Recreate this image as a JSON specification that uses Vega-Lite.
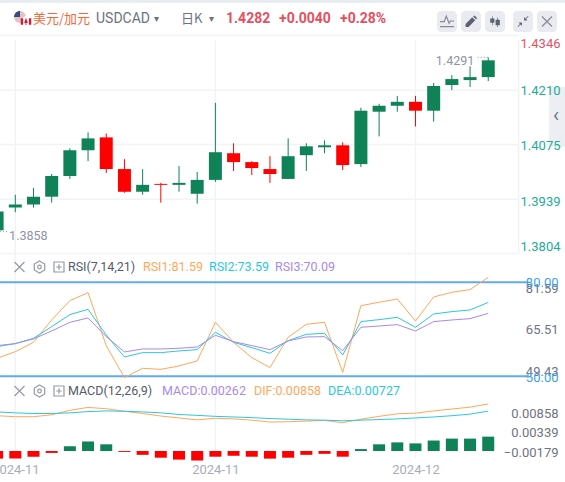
{
"$schema":"https://vega.github.io/schema/vega-lite/v6.json",
"width":565,"height":482,"padding":0,"autosize":{"type":"none"},"background":"#ffffff",
"config":{"view":{"stroke":null},"font":"Roboto","scale":{"continuousPadding":0},"text":{"baseline":"middle","align":"left","font":"Roboto"}},
"datasets":{"bars":[
{"i":0,"open":1.38614,"high":1.39082,"low":1.38614,"close":1.39082,"rsi1":55.74,"rsi2":59.47,"rsi3":59.79,"dif":0.00644,"dea":0.00713,"macd":-0.00139},
{"i":1,"open":1.39180,"high":1.39500,"low":1.39064,"close":1.39254,"rsi1":57.87,"rsi2":60.43,"rsi3":60.43,"dif":0.00626,"dea":0.00696,"macd":-0.00139},
{"i":2,"open":1.39254,"high":1.39672,"low":1.39180,"close":1.39451,"rsi1":60.85,"rsi2":62.13,"rsi3":61.92,"dif":0.00626,"dea":0.00684,"macd":-0.00104},
{"i":3,"open":1.39451,"high":1.40016,"low":1.39303,"close":1.39967,"rsi1":67.98,"rsi2":65.85,"rsi3":64.47,"dif":0.00661,"dea":0.00684,"macd":-0.00035},
{"i":4,"open":1.39967,"high":1.40656,"low":1.39893,"close":1.40607,"rsi1":74.15,"rsi2":69.68,"rsi3":67.23,"dif":0.00742,"dea":0.00696,"macd":0.00087},
{"i":5,"open":1.40607,"high":1.41050,"low":1.40336,"close":1.40902,"rsi1":76.70,"rsi2":71.38,"rsi3":68.62,"dif":0.00795,"dea":0.00719,"macd":0.00174},
{"i":6,"open":1.40927,"high":1.41025,"low":1.40041,"close":1.40139,"rsi1":59.79,"rsi2":63.19,"rsi3":62.66,"dif":0.00771,"dea":0.00731,"macd":0.00122},
{"i":7,"open":1.40139,"high":1.40385,"low":1.39549,"close":1.39574,"rsi1":49.57,"rsi2":56.17,"rsi3":57.77,"dif":0.00725,"dea":0.00725,"macd":-0.00017},
{"i":8,"open":1.39574,"high":1.40139,"low":1.39500,"close":1.39746,"rsi1":52.55,"rsi2":57.55,"rsi3":58.72,"dif":0.00684,"dea":0.00713,"macd":-0.0007},
{"i":9,"open":1.39770,"high":1.39795,"low":1.39303,"close":1.39746,"rsi1":52.23,"rsi2":57.55,"rsi3":58.72,"dif":0.00638,"dea":0.00696,"macd":-0.00122},
{"i":10,"open":1.39746,"high":1.40213,"low":1.39574,"close":1.39795,"rsi1":53.30,"rsi2":58.09,"rsi3":58.94,"dif":0.00603,"dea":0.00667,"macd":-0.00157},
{"i":11,"open":1.39524,"high":1.40066,"low":1.39278,"close":1.39869,"rsi1":54.89,"rsi2":58.51,"rsi3":59.36,"dif":0.00568,"dea":0.0065,"macd":-0.00174},
{"i":12,"open":1.39869,"high":1.41788,"low":1.39820,"close":1.40558,"rsi1":67.23,"rsi2":64.04,"rsi3":63.09,"dif":0.00597,"dea":0.00632,"macd":-0.00104},
{"i":13,"open":1.40533,"high":1.40779,"low":1.40090,"close":1.40312,"rsi1":60.85,"rsi2":60.85,"rsi3":61.06,"dif":0.00586,"dea":0.00621,"macd":-0.00087},
{"i":14,"open":1.40312,"high":1.40336,"low":1.39992,"close":1.40164,"rsi1":55.96,"rsi2":59.15,"rsi3":59.79,"dif":0.00563,"dea":0.00609,"macd":-0.00104},
{"i":15,"open":1.40139,"high":1.40459,"low":1.39795,"close":1.40016,"rsi1":52.77,"rsi2":57.34,"rsi3":58.51,"dif":0.00528,"dea":0.00592,"macd":-0.00139},
{"i":16,"open":1.39893,"high":1.40902,"low":1.39893,"close":1.40459,"rsi1":62.45,"rsi2":61.38,"rsi3":61.28,"dif":0.00534,"dea":0.0058,"macd":-0.00122},
{"i":17,"open":1.40484,"high":1.40779,"low":1.40090,"close":1.40705,"rsi1":66.6,"rsi2":63.4,"rsi3":62.55,"dif":0.00545,"dea":0.00568,"macd":-0.0007},
{"i":18,"open":1.40681,"high":1.40853,"low":1.40533,"close":1.40730,"rsi1":67.23,"rsi2":63.72,"rsi3":62.66,"dif":0.00557,"dea":0.00563,"macd":-0.00052},
{"i":19,"open":1.40730,"high":1.40804,"low":1.40115,"close":1.40238,"rsi1":51.28,"rsi2":56.81,"rsi3":58.19,"dif":0.00516,"dea":0.00551,"macd":-0.00104},
{"i":20,"open":1.40262,"high":1.41665,"low":1.40189,"close":1.41591,"rsi1":72.55,"rsi2":67.45,"rsi3":65.64,"dif":0.0058,"dea":0.00563,"macd":0.00035},
{"i":21,"open":1.41566,"high":1.41763,"low":1.40951,"close":1.41714,"rsi1":73.62,"rsi2":68.09,"rsi3":66.06,"dif":0.00632,"dea":0.00574,"macd":0.00122},
{"i":22,"open":1.41714,"high":1.41960,"low":1.41566,"close":1.41812,"rsi1":74.68,"rsi2":68.83,"rsi3":66.49,"dif":0.00679,"dea":0.00586,"macd":0.00157},
{"i":23,"open":1.41812,"high":1.41960,"low":1.41197,"close":1.41591,"rsi1":67.66,"rsi2":65.64,"rsi3":64.47,"dif":0.0069,"dea":0.00603,"macd":0.00139},
{"i":24,"open":1.41591,"high":1.42280,"low":1.41320,"close":1.42206,"rsi1":75.32,"rsi2":69.89,"rsi3":67.45,"dif":0.00731,"dea":0.00621,"macd":0.00191},
{"i":25,"open":1.42230,"high":1.42476,"low":1.42107,"close":1.42378,"rsi1":76.81,"rsi2":70.64,"rsi3":67.98,"dif":0.00766,"dea":0.00644,"macd":0.00226},
{"i":26,"open":1.42353,"high":1.42698,"low":1.42181,"close":1.42427,"rsi1":77.66,"rsi2":71.17,"rsi3":68.4,"dif":0.008,"dea":0.00673,"macd":0.00226},
{"i":27,"open":1.42427,"high":1.42919,"low":1.42329,"close":1.42845,"rsi1":81.59,"rsi2":73.59,"rsi3":70.09,"dif":0.00858,"dea":0.00727,"macd":0.00262}
]},
"resolve":{"scale":{"y":"independent"},"axis":{"y":"independent"}},
"layer":[
{"layer":[
 {"data":{"values":[{"level":1.4346},{"level":1.4210},{"level":1.4075},{"level":1.3939},{"level":1.3804}]},
  "mark":{"type":"rule","color":"#f1f3f7","strokeWidth":1.5},
  "encoding":{
   "x":{"datum":0.159,"type":"quantitative","scale":{"domain":[0.159,31.22],"range":[0,565]},"axis":{"orient":"bottom","offset":-21,"values":[1,12,23],"labelExpr":"datum.value==23?'2024-12':'2024-11'","title":null,"grid":false,"domain":false,"ticks":false,"tickSize":0,"labelPadding":2,"labelFont":"Roboto","labelFontSize":13,"labelColor":"#a9adba","labelFlush":false,"labelOverlap":false}},
   "x2":{"datum":28.675},
   "y":{"field":"level","type":"quantitative","scale":{"domain":[1.3804,1.4346],"range":[255,34]},"axis":null}}},
 {"data":{"values":[{"grid":1},{"grid":12},{"grid":23}]},
  "mark":{"type":"rule","color":"#f1f3f7","strokeWidth":1.5},
  "encoding":{"x":{"field":"grid","type":"quantitative","scale":{"domain":[0.159,31.22],"range":[0,565]}},
   "y":{"datum":1.4335,"type":"quantitative"},
   "y2":{"datum":1.3294}}},
 {"data":{"values":[{"grid":28.675}]},
  "mark":{"type":"rule","color":"#f1f3f7","strokeWidth":1.5},
  "encoding":{"x":{"field":"grid","type":"quantitative","scale":{"domain":[0.159,31.22],"range":[0,565]}},
   "y":{"datum":1.4335,"type":"quantitative"},
   "y2":{"datum":1.3804}}},
 {"data":{"name":"bars"},"mark":{"type":"rule","strokeWidth":1},
  "encoding":{"x":{"field":"i","type":"quantitative","scale":{"domain":[0.159,31.22],"range":[0,565]}},
   "y":{"field":"low","type":"quantitative"},"y2":{"field":"high"},
   "color":{"condition":{"test":"datum.close>=datum.open","value":"#108257"},"value":"#ff0000"}}},
 {"data":{"name":"bars"},"mark":{"type":"bar","size":13},
  "encoding":{"x":{"field":"i","type":"quantitative","scale":{"domain":[0.159,31.22],"range":[0,565]}},
   "y":{"field":"open","type":"quantitative"},"y2":{"field":"close"},
   "color":{"condition":{"test":"datum.close>=datum.open","value":"#108257"},"value":"#ff0000"}}},
 {"data":{"values":[{"i":26.42,"to":26.98,"extreme":1.42919}]},"mark":{"type":"rule","color":"#8f93a3","strokeDash":[1,2],"strokeWidth":1},
  "encoding":{"x":{"field":"i","type":"quantitative","scale":{"domain":[0.159,31.22],"range":[0,565]}},"x2":{"field":"to"},"y":{"field":"extreme","type":"quantitative"}}},
 {"data":{"values":[{"i":0,"to":0.65,"extreme":1.38582}]},"mark":{"type":"rule","color":"#8f93a3","strokeDash":[1,2],"strokeWidth":1},
  "encoding":{"x":{"field":"i","type":"quantitative","scale":{"domain":[0.159,31.22],"range":[0,565]}},"x2":{"field":"to"},"y":{"field":"extreme","type":"quantitative"}}},
 {"data":{"values":[{"i":27,"extreme":1.4291}]},"mark":{"type":"text","align":"right","dx":-14,"dy":3,"fontSize":12.5,"color":"#8f93a3"},
  "encoding":{"x":{"field":"i","type":"quantitative","scale":{"domain":[0.159,31.22],"range":[0,565]}},"y":{"field":"extreme","type":"quantitative"},"text":{"field":"extreme","type":"quantitative","format":".4f"}}},
 {"data":{"values":[{"i":0,"extreme":1.3858}]},"mark":{"type":"text","align":"left","dx":12,"dy":4,"fontSize":12.5,"color":"#8f93a3"},
  "encoding":{"x":{"field":"i","type":"quantitative","scale":{"domain":[0.159,31.22],"range":[0,565]}},"y":{"field":"extreme","type":"quantitative"},"text":{"field":"extreme","type":"quantitative","format":".4f"}}}
]},
{"layer":[
 {"data":{"values":[{"level":80},{"level":50}]},"mark":{"type":"rule","color":"#62ade9","strokeWidth":2},
  "encoding":{"x":{"datum":0.159,"type":"quantitative","scale":{"domain":[0.159,31.22],"range":[0,565]}},"x2":{"datum":29.19},
   "y":{"field":"level","type":"quantitative","scale":{"domain":[50,80],"range":[376.3,282.3]},"axis":null}}},
 {"data":{"name":"bars"},"mark":{"type":"line","color":"#ffa759","strokeWidth":1},
  "encoding":{"x":{"field":"i","type":"quantitative","scale":{"domain":[0.159,31.22],"range":[0,565]}},"y":{"field":"rsi1","type":"quantitative"}}},
 {"data":{"name":"bars"},"mark":{"type":"line","color":"#2cc7e0","strokeWidth":1},
  "encoding":{"x":{"field":"i","type":"quantitative","scale":{"domain":[0.159,31.22],"range":[0,565]}},"y":{"field":"rsi2","type":"quantitative"}}},
 {"data":{"name":"bars"},"mark":{"type":"line","color":"#a98ae8","strokeWidth":1},
  "encoding":{"x":{"field":"i","type":"quantitative","scale":{"domain":[0.159,31.22],"range":[0,565]}},"y":{"field":"rsi3","type":"quantitative"}}}
]},
{"layer":[
 {"data":{"name":"bars"},"mark":{"type":"bar","size":12},
  "encoding":{"x":{"field":"i","type":"quantitative","scale":{"domain":[0.159,31.22],"range":[0,565]}},
   "y":{"field":"macd","type":"quantitative","scale":{"domain":[0,0.00858],"range":[451,401.67]},"axis":null},
   "y2":{"datum":0},
   "color":{"condition":{"test":"datum.macd>=0","value":"#108257"},"value":"#ff0000"}}},
 {"data":{"name":"bars"},"mark":{"type":"line","color":"#ffa759","strokeWidth":1},
  "encoding":{"x":{"field":"i","type":"quantitative","scale":{"domain":[0.159,31.22],"range":[0,565]}},"y":{"field":"dif","type":"quantitative"}}},
 {"data":{"name":"bars"},"mark":{"type":"line","color":"#2cc7e0","strokeWidth":1},
  "encoding":{"x":{"field":"i","type":"quantitative","scale":{"domain":[0.159,31.22],"range":[0,565]}},"y":{"field":"dea","type":"quantitative"}}}
]},
{"data":{"values":[{"t":"top"}]},"mark":{"type":"rect","x":0,"x2":565,"y":0,"y2":3,"fill":"#e9edf3"},"encoding":{}},
{"data":{"values":[{"t":"header"}]},"mark":{"type":"rule","x":0,"x2":565,"y":37,"y2":37,"color":"#f1f3f7","strokeWidth":1.5},"encoding":{}},
{"data":{"values":[{"t":"sep0"}]},"mark":{"type":"rule","x":0,"x2":565,"y":255,"y2":255,"color":"#f1f3f7","strokeWidth":1.5},"encoding":{}},
{"data":{"values":[{"t":"sep1"}]},"mark":{"type":"rule","x":0,"x2":565,"y":379,"y2":379,"color":"#f1f3f7","strokeWidth":1.5},"encoding":{}},
{"data":{"values":[{"t":"sep"}]},"mark":{"type":"rule","x":0,"x2":565,"y":461.7,"y2":461.7,"color":"#f1f3f7","strokeWidth":1.5},"encoding":{}},
{"data":{"values":[{"t":"b1"}]},"mark":{"type":"rect","x":437,"x2":457,"y":11,"y2":32,"fill":"#e9ebf1","cornerRadius":4},"encoding":{}},
{"data":{"values":[{"t":"b2"}]},"mark":{"type":"rect","x":461,"x2":481,"y":11,"y2":32,"fill":"#e9ebf1","cornerRadius":4},"encoding":{}},
{"data":{"values":[{"t":"b3"}]},"mark":{"type":"rect","x":485,"x2":505,"y":11,"y2":32,"fill":"#e9ebf1","cornerRadius":4},"encoding":{}},
{"data":{"values":[{"t":"b4"}]},"mark":{"type":"rect","x":513,"x2":533,"y":11,"y2":32,"fill":"#e9ebf1","cornerRadius":4},"encoding":{}},
{"data":{"values":[{"t":"b5"}]},"mark":{"type":"rect","x":537,"x2":557,"y":11,"y2":32,"fill":"#e9ebf1","cornerRadius":4},"encoding":{}},
{"data":{"values":[{"t":"i1"}]},"mark":{"type":"point","x":447,"y":21,"size":196,"filled":false,"stroke":"#5c6270","strokeWidth":1.2,"shape":"M-1,0.1 L-0.4,0.1 L-0.1,-0.7 L0.3,0.3 L0.5,0 L1,0 M-1,0.8 L1,0.8"},"encoding":{}},
{"data":{"values":[{"t":"i2"}]},"mark":{"type":"point","x":471,"y":21.5,"size":144,"filled":true,"opacity":1,"fill":"#5c6270","shape":"M-0.9,0.9 L-0.9,0.4 L0.2,-0.7 L0.7,-0.2 L-0.4,0.9 Z M0.35,-0.85 L0.6,-1 L1,-0.6 L0.85,-0.35 Z"},"encoding":{}},
{"data":{"values":[{"t":"i3"}]},"mark":{"type":"point","x":495,"y":21,"size":144,"filled":true,"opacity":1,"fill":"#5c6270","shape":"M-0.8,-0.4H-0.1V0.3H-0.8Z M-0.5,-0.8H-0.4V0.7H-0.5Z M0.1,-0.2H0.8V0.7H0.1Z M0.4,-0.6H0.5V1H0.4Z"},"encoding":{}},
{"data":{"values":[{"t":"i4"}]},"mark":{"type":"point","x":523,"y":21.5,"size":121,"filled":true,"opacity":1,"fill":"#5c6270","shape":"M0.2,-0.2 L0.2,-0.8 L0.45,-0.55 L0.9,-1 L1,-0.9 L0.55,-0.45 L0.8,-0.2 Z M-0.2,0.2 L-0.2,0.8 L-0.45,0.55 L-0.9,1 L-1,0.9 L-0.55,0.45 L-0.8,0.2 Z"},"encoding":{}},
{"data":{"values":[{"t":"i5"}]},"mark":{"type":"point","x":547,"y":21.5,"size":100,"filled":false,"stroke":"#5c6270","strokeWidth":1.2,"shape":"M-1,-1L1,1M-1,1L1,-1"},"encoding":{}},
{"data":{"values":[{"t":"us"}]},"mark":{"type":"point","x":20,"y":17,"size":144,"filled":true,"opacity":1,"fill":"#e3c2c8","shape":"circle"},"encoding":{}},
{"data":{"values":[{"t":"usb"}]},"mark":{"type":"point","x":20,"y":17,"size":144,"filled":true,"opacity":1,"fill":"#3b4a7d","shape":"M-1,0 A1,1 0 0 1 0,-1 L0,0 Z"},"encoding":{}},
{"data":{"values":[{"t":"ca"}]},"mark":{"type":"point","x":26,"y":21.5,"size":110,"filled":true,"opacity":1,"fill":"#ffffff","shape":"circle"},"encoding":{}},
{"data":{"values":[{"t":"car"}]},"mark":{"type":"point","x":26,"y":21.5,"size":110,"filled":true,"opacity":1,"fill":"#d6192c","shape":"M-1,-0.6 L-0.55,-0.6 L-0.55,0.6 L-1,0.6 Z M1,-0.6 L0.55,-0.6 L0.55,0.6 L1,0.6 Z M0,-0.7 L0.35,0.3 L-0.35,0.3 Z M-0.08,0.3H0.08V0.7H-0.08Z"},"encoding":{}},
{"data":{"values":[{"t":"tab"}]},"mark":{"type":"rect","x":549,"x2":565,"y":87,"y2":147,"fill":"#eceef3","cornerRadiusTopLeft":3,"cornerRadiusBottomLeft":3},"encoding":{}},
{"data":{"values":[{"t":"sep2"}]},"mark":{"type":"rule","x":171,"x2":171,"y":13,"y2":27,"color":"#d5d8e0"},"encoding":{}},
{"data":{"values":[{"label":"‹"}]},"mark":{"type":"text","x":553,"y":116,"fontSize":20,"color":"#6f7482"},"encoding":{"text":{"field":"label"}}},
{"data":{"values":[{"label":"美元/加元"}]},"mark":{"type":"text","x":33,"y":19,"fontSize":13,"font":"Noto Sans CJK SC","color":"#f4693c"},"encoding":{"text":{"field":"label"}}},
{"data":{"values":[{"label":"USDCAD"}]},"mark":{"type":"text","x":96,"y":19,"fontSize":14,"color":"#6d7280"},"encoding":{"text":{"field":"label"}}},
{"data":{"values":[{"label":"▾"}]},"mark":{"type":"text","x":154,"y":19,"fontSize":10,"font":"DejaVu Sans","color":"#6d7280"},"encoding":{"text":{"field":"label"}}},
{"data":{"values":[{"label":"日K"}]},"mark":{"type":"text","x":181,"y":19,"fontSize":13,"font":"Noto Sans CJK SC","color":"#6d7280"},"encoding":{"text":{"field":"label"}}},
{"data":{"values":[{"label":"▾"}]},"mark":{"type":"text","x":209,"y":19,"fontSize":10,"font":"DejaVu Sans","color":"#6d7280"},"encoding":{"text":{"field":"label"}}},
{"data":{"values":[{"label":"1.4282"}]},"mark":{"type":"text","x":226,"y":19,"fontSize":14,"fontWeight":"bold","color":"#e4505f"},"encoding":{"text":{"field":"label"}}},
{"data":{"values":[{"label":"+0.0040"}]},"mark":{"type":"text","x":279,"y":19,"fontSize":14,"fontWeight":"bold","color":"#e4505f"},"encoding":{"text":{"field":"label"}}},
{"data":{"values":[{"label":"+0.28%"}]},"mark":{"type":"text","x":340,"y":19,"fontSize":14,"fontWeight":"bold","color":"#e4505f"},"encoding":{"text":{"field":"label"}}},
{"data":{"values":[{"t":"x1"}]},"mark":{"type":"point","x":19.5,"y":267,"size":100,"filled":false,"stroke":"#6b7080","strokeWidth":1.2,"shape":"M-1,-1L1,1M-1,1L1,-1"},"encoding":{}},
{"data":{"values":[{"t":"h1"}]},"mark":{"type":"point","x":39.5,"y":267,"size":144,"filled":false,"stroke":"#6b7080","strokeWidth":1.2,"shape":"M0,-1 L0.87,-0.5 L0.87,0.5 L0,1 L-0.87,0.5 L-0.87,-0.5 Z M0.3,0 A0.3,0.3 0 1 1 -0.3,0 A0.3,0.3 0 1 1 0.3,0"},"encoding":{}},
{"data":{"values":[{"t":"p1"}]},"mark":{"type":"point","x":59,"y":267,"size":100,"filled":false,"stroke":"#6b7080","strokeWidth":1.2,"shape":"M-1,-1H1V1H-1Z M-0.55,0H0.55 M0,-0.55V0.55"},"encoding":{}},
{"data":{"values":[{"label":"RSI(7,14,21)"}]},"mark":{"type":"text","x":68,"y":267,"fontSize":12.5,"color":"#555a68"},"encoding":{"text":{"field":"label"}}},
{"data":{"values":[{"label":"RSI1:81.59"}]},"mark":{"type":"text","x":143,"y":267,"fontSize":12.5,"color":"#ffa759"},"encoding":{"text":{"field":"label"}}},
{"data":{"values":[{"label":"RSI2:73.59"}]},"mark":{"type":"text","x":209,"y":267,"fontSize":12.5,"color":"#2cc7e0"},"encoding":{"text":{"field":"label"}}},
{"data":{"values":[{"label":"RSI3:70.09"}]},"mark":{"type":"text","x":275,"y":267,"fontSize":12.5,"color":"#a98ae8"},"encoding":{"text":{"field":"label"}}},
{"data":{"values":[{"t":"x2"}]},"mark":{"type":"point","x":19.5,"y":391,"size":100,"filled":false,"stroke":"#6b7080","strokeWidth":1.2,"shape":"M-1,-1L1,1M-1,1L1,-1"},"encoding":{}},
{"data":{"values":[{"t":"h2"}]},"mark":{"type":"point","x":39.5,"y":391,"size":144,"filled":false,"stroke":"#6b7080","strokeWidth":1.2,"shape":"M0,-1 L0.87,-0.5 L0.87,0.5 L0,1 L-0.87,0.5 L-0.87,-0.5 Z M0.3,0 A0.3,0.3 0 1 1 -0.3,0 A0.3,0.3 0 1 1 0.3,0"},"encoding":{}},
{"data":{"values":[{"t":"p2"}]},"mark":{"type":"point","x":59,"y":391,"size":100,"filled":false,"stroke":"#6b7080","strokeWidth":1.2,"shape":"M-1,-1H1V1H-1Z M-0.55,0H0.55 M0,-0.55V0.55"},"encoding":{}},
{"data":{"values":[{"label":"MACD(12,26,9)"}]},"mark":{"type":"text","x":68,"y":391,"fontSize":12.5,"color":"#555a68"},"encoding":{"text":{"field":"label"}}},
{"data":{"values":[{"label":"MACD:0.00262"}]},"mark":{"type":"text","x":162,"y":391,"fontSize":12.5,"color":"#a98ae8"},"encoding":{"text":{"field":"label"}}},
{"data":{"values":[{"label":"DIF:0.00858"}]},"mark":{"type":"text","x":254,"y":391,"fontSize":12.5,"color":"#ffa759"},"encoding":{"text":{"field":"label"}}},
{"data":{"values":[{"label":"DEA:0.00727"}]},"mark":{"type":"text","x":328,"y":391,"fontSize":12.5,"color":"#2cc7e0"},"encoding":{"text":{"field":"label"}}},
{"data":{"values":[{"tick":1.4346},{"tick":1.421},{"tick":1.4075},{"tick":1.3939},{"tick":1.3804}]},"mark":{"type":"rule","opacity":0},
 "encoding":{"y":{"field":"tick","type":"quantitative","scale":{"domain":[1.3804,1.3939,1.421,1.4346],"range":[246,201,90,43]},
  "axis":{"orient":"right","offset":-5,"zindex":1,"values":[1.4346,1.421,1.4075,1.3939,1.3804],"format":".4f","title":null,"grid":false,"domain":false,"ticks":false,"tickSize":0,"labelPadding":0,"labelAlign":"right","labelFont":"Roboto","labelFontSize":13,
   "labelColor":{"condition":{"test":"datum.value>1.43","value":"#e4505f"},"value":"#22ad92"}}}}},
{"data":{"values":[{"tick":81.59},{"tick":65.51},{"tick":49.43}]},"mark":{"type":"rule","opacity":0},
 "encoding":{"y":{"field":"tick","type":"quantitative","scale":{"domain":[49.43,81.59],"range":[371.7,288]},
  "axis":{"orient":"right","offset":-7,"zindex":1,"values":[81.59,65.51,49.43],"format":".2f","title":null,"grid":false,"domain":false,"ticks":false,"tickSize":0,"labelPadding":0,"labelAlign":"right","labelFont":"Roboto","labelFontSize":13,"labelColor":"#70747f"}}}},
{"data":{"values":[{"tick":80},{"tick":50}]},"mark":{"type":"rule","opacity":0},
 "encoding":{"y":{"field":"tick","type":"quantitative","scale":{"domain":[50,80],"range":[377,282]},
  "axis":{"orient":"right","offset":-7,"zindex":1,"values":[80,50],"format":".2f","title":null,"grid":false,"domain":false,"ticks":false,"tickSize":0,"labelPadding":0,"labelAlign":"right","labelFont":"Roboto","labelFontSize":13,"labelColor":"#3f9fea"}}}},
{"data":{"values":[{"tick":0.00858},{"tick":0.00339},{"tick":-0.00179}]},"mark":{"type":"rule","opacity":0},
 "encoding":{"y":{"field":"tick","type":"quantitative","scale":{"domain":[-0.00179,0.00858],"range":[452,413]},
  "axis":{"orient":"right","offset":-7,"zindex":1,"values":[0.00858,0.00339,-0.00179],"format":".5f","title":null,"grid":false,"domain":false,"ticks":false,"tickSize":0,"labelPadding":0,"labelAlign":"right","labelFont":"Roboto","labelFontSize":13,"labelColor":"#70747f"}}}}
]}
